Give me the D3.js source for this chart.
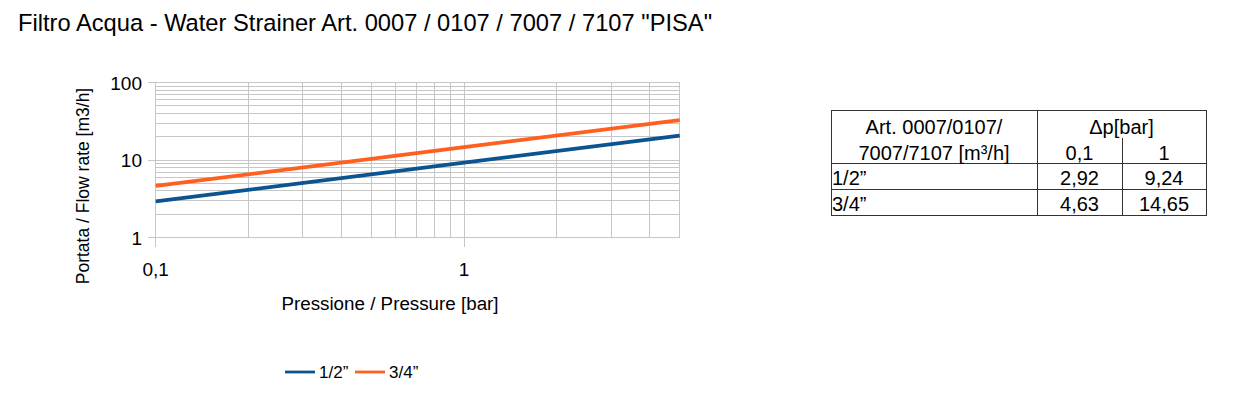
<!DOCTYPE html>
<html><head><meta charset="utf-8">
<script src="https://cdn.jsdelivr.net/npm/d3@7"></script>
<style>body{margin:0;background:#fff}svg{display:block;font-family:"Liberation Sans",Arial,sans-serif}</style>
</head><body><svg id="c" width="1259" height="401"></svg>
<script>
// ---- data ----
const titleText = 'Filtro Acqua - Water Strainer Art. 0007 / 0107 / 7007 / 7107 "PISA"';
const pressure = [0.1, 1, 5];                 // bar
const seriesNames = ['1/2”', '3/4”'];
const flowHalf = [2.92, 9.24, 20.66];          // m3/h
const flowThreeQuarter = [4.63, 14.65, 32.76]; // m3/h
const xTickLabels = [[0.1, '0,1'], [1, '1']];
const yTickLabels = [[1, '1'], [10, '10'], [100, '100']];
const tableHead1 = ['Art. 0007/0107/', '7007/7107 [m³/h]'];
const tableDp = 'Δp[bar]';
const tablePressures = ['0,1', '1'];
const tableQ01 = [2.92, 4.63];
const tableQ1 = [9.24, 14.65];

const colors = ['#0b5391', '#ff5f1f'];
const svg = d3.select('#c');

function stext(parent, x, y, str, size, sx, anchor, rot) {
  const g = parent.append('g').attr('transform', `translate(${x},${y})` + (rot ? ` rotate(${rot})` : '') + ` scale(${sx},1)`);
  return g.append('text').attr('font-size', size).attr('text-anchor', anchor || 'start').attr('fill', '#000').text(str);
}

// title
stext(svg, 18, 31, titleText, 23.7, 1, 'start');

// scales
const x = d3.scaleLog().domain([0.1, 5]).range([155.7, 679.7]);
const y = d3.scaleLog().domain([1, 100]).range([237.5, 82.5]);

const grid = svg.append('g').attr('stroke', '#c6c6c6').attr('stroke-width', 1).attr('shape-rendering', 'crispEdges');
grid.selectAll('.gx').data(x.ticks()).join('line')
  .attr('x1', d => x(d)).attr('x2', d => x(d)).attr('y1', y.range()[1]).attr('y2', y.range()[0]);
grid.selectAll('.gy').data(y.ticks()).join('line')
  .attr('y1', d => y(d)).attr('y2', d => y(d)).attr('x1', x.range()[0]).attr('x2', x.range()[1]);
// major ticks
grid.selectAll('.tx').data(xTickLabels).join('line')
  .attr('x1', d => x(d[0])).attr('x2', d => x(d[0])).attr('y1', y.range()[0]).attr('y2', y.range()[0] + 9);
grid.selectAll('.ty').data(yTickLabels).join('line')
  .attr('y1', d => y(d[0])).attr('y2', d => y(d[0])).attr('x1', x.range()[0] - 8).attr('x2', x.range()[0]);

// tick labels
xTickLabels.forEach(d => stext(svg, x(d[0]), 276, d[1], 19, 1, 'middle'));
yTickLabels.forEach(d => stext(svg, 142, y(d[0]) + 7, d[1], 19, 1, 'end'));

// axis titles
stext(svg, 390, 310, 'Pressione / Pressure [bar]', 18.8, 1, 'middle');
stext(svg, 89, 186, 'Portata / Flow rate [m3/h]', 17.5, 1, 'middle', -90);

// lines
const line = d3.line().x(d => x(d[0])).y(d => y(d[1]));
[flowHalf, flowThreeQuarter].forEach((s, i) => {
  svg.append('path').datum(pressure.map((p, j) => [p, s[j]]))
    .attr('d', line).attr('fill', 'none').attr('stroke', colors[i]).attr('stroke-width', 3.8);
});

// legend
const legX = [285, 355];
seriesNames.forEach((n, i) => {
  svg.append('line').attr('x1', legX[i]).attr('x2', legX[i] + 30).attr('y1', 372).attr('y2', 372)
    .attr('stroke', colors[i]).attr('stroke-width', 2.8);
  stext(svg, legX[i] + 34, 378, n, 17, 1.0, 'start');
});

// table
const T = {l: 831, r: 1206, t: 110, h: 163, r1: 189, b: 215, c1: 1037, c2: 1122};
const tb = svg.append('g');
const tl = tb.append('g').attr('stroke', '#333').attr('stroke-width', 1).attr('shape-rendering', 'crispEdges');
tl.append('rect').attr('x', T.l).attr('y', T.t).attr('width', T.r - T.l).attr('height', T.b - T.t).attr('fill', 'none');
[T.h, T.r1].forEach(v => tl.append('line').attr('x1', T.l).attr('x2', T.r).attr('y1', v).attr('y2', v));
tl.append('line').attr('x1', T.c1).attr('x2', T.c1).attr('y1', T.t).attr('y2', T.b);
tl.append('line').attr('x1', T.c2).attr('x2', T.c2).attr('y1', 138).attr('y2', T.b);
const fs = 20, sxT = 1;
stext(tb, (T.l + T.c1) / 2, 134, tableHead1[0], fs, sxT, 'middle');
stext(tb, (T.l + T.c1) / 2, 160, tableHead1[1], fs, sxT, 'middle');
stext(tb, (T.c1 + T.r) / 2, 134, tableDp, fs, sxT, 'middle');
stext(tb, (T.c1 + T.c2) / 2, 160, tablePressures[0], fs, sxT, 'middle');
stext(tb, (T.c2 + T.r) / 2, 160, tablePressures[1], fs, sxT, 'middle');
const fmt = v => d3.format('.2f')(v).replace('.', ',');
seriesNames.forEach((n, i) => {
  const by = i === 0 ? 185 : 211;
  stext(tb, T.l + 1, by, n, fs, sxT, 'start');
  stext(tb, (T.c1 + T.c2) / 2, by, fmt(tableQ01[i]), fs, sxT, 'middle');
  stext(tb, (T.c2 + T.r) / 2, by, fmt(tableQ1[i]), fs, sxT, 'middle');
});
</script></body></html>
